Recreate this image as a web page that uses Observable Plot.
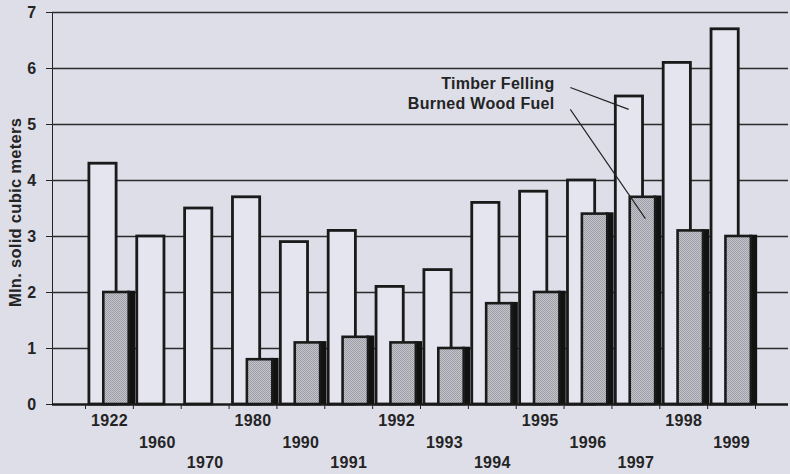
<!DOCTYPE html>
<html><head><meta charset="utf-8">
<script src="https://cdn.jsdelivr.net/npm/d3@7"></script>
<script src="https://cdn.jsdelivr.net/npm/@observablehq/plot@0.6"></script>
<style>
html,body{margin:0;padding:0;background:#dddee8;}
#chart svg{display:block;}
</style></head><body><div id="chart"></div>
<script>
// ---- data ----
const years = ["1922","1960","1970","1980","1990","1991","1992","1993","1994","1995","1996","1997","1998","1999"];
const timberFelling = [4.3, 3.0, 3.5, 3.7, 2.9, 3.1, 2.1, 2.4, 3.6, 3.8, 4.0, 5.5, 6.1, 6.7];
const burnedWoodFuel = [2.0, null, null, 0.8, 1.1, 1.2, 1.1, 1.0, 1.8, 2.0, 3.4, 3.7, 3.1, 3.0];
const yTicks = [0, 1, 2, 3, 4, 5, 6, 7];
const yTitle = "Mln. solid cubic meters";
const yTitleX = -1.46, yTitleY = 3.43;
const annotationLabels = ["Timber Felling", "Burned Wood Fuel"];
const annotationX = [9.8, 9.8];
const annotationY = [5.73, 5.36];
const leaderX1 = [10.13, 10.13];
const leaderY1 = [5.66, 5.27];
const leaderX2 = [11.35, 11.70];
const leaderY2 = [5.27, 3.32];

// ---- tables built from the arrays ----
const rows = years.map((year, i) => ({year, i, timber: timberFelling[i], fuel: burnedWoodFuel[i]}));
const fuelRows = rows.filter(d => d.fuel != null);
const annotations = annotationLabels.map((t, k) => ({t, x: annotationX[k], y: annotationY[k]}));
const leaders = leaderX1.map((x1, k) => ({x1, y1: leaderY1[k], x2: leaderX2[k], y2: leaderY2[k]}));

// layout constants
const X0 = 85, X1 = 755;
const bw = (X1 - X0) / years.length;
const rowDy = [16, 38, 58.5];
const ink = "#1a1a1a";
const txt = "#242424";

const labelMarks = rowDy.map((dy, r) =>
  Plot.text(rows.filter(d => d.i % 3 === r), {
    x: d => d.i + 0.5, y: 0, text: "year", dy, fill: txt, fontSize: 16, fontWeight: "bold"
  })
);

const chart = Plot.plot({
  width: 790,
  height: 474,
  marginLeft: 52,
  marginRight: 2,
  marginTop: 12,
  marginBottom: 70,
  style: {
    background: "transparent",
    color: txt,
    fontFamily: "'Liberation Sans', Arial, sans-serif",
    fontSize: "16px",
    fontWeight: "bold",
    letterSpacing: "0.3px",
    overflow: "visible"
  },
  x: {domain: [0, years.length], range: [X0, X1], ticks: years.length, tickSize: 5, tickFormat: () => "", label: null},
  y: {domain: [0, 7], ticks: 7, tickSize: 6, tickPadding: 10, label: null, line: true},
  marks: [
    Plot.ruleY(yTicks.filter(d => d > 0), {y: d => d, stroke: "#2b2b2b", strokeWidth: 1.3}),
    Plot.rect(rows, {
      x1: "i", x2: d => d.i + 1, y1: 0, y2: "timber",
      fill: "#e4e5ee", stroke: ink, strokeWidth: 2.8,
      insetLeft: 3.9, insetRight: bw - 31.1
    }),
    Plot.rect(fuelRows, {
      x1: "i", x2: d => d.i + 1, y1: 0, y2: "fuel",
      fill: "#121212", insetLeft: 42, insetRight: bw - 50, insetTop: -1.3
    }),
    Plot.rect(fuelRows, {
      x1: "i", x2: d => d.i + 1, y1: 0, y2: "fuel",
      fill: "url(#stipple)", stroke: ink, strokeWidth: 2.6,
      insetLeft: 18.3, insetRight: bw - 43.7
    }),
    Plot.ruleY([0], {stroke: ink, strokeWidth: 2.6}),
    ...labelMarks,
    Plot.text([yTitle], {
      x: () => yTitleX, y: () => yTitleY, text: d => d, rotate: -90,
      fill: txt, fontSize: 16.5, fontWeight: "bold"
    }),
    Plot.text(annotations, {
      x: "x", y: "y", text: "t", textAnchor: "end", fill: txt, fontSize: 16, fontWeight: "bold"
    }),
    Plot.link(leaders, {x1: "x1", y1: "y1", x2: "x2", y2: "y2", stroke: "#222", strokeWidth: 1.1})
  ]
});

// stipple pattern for the grey bars
const ns = "http://www.w3.org/2000/svg";
const defs = document.createElementNS(ns, "defs");
defs.innerHTML = `<pattern id="stipple" width="2" height="2" patternUnits="userSpaceOnUse">
  <rect width="2" height="2" fill="#c4c4cc"/>
  <rect width="1" height="1" fill="#9e9ea6"/>
  <rect x="1" y="1" width="1" height="1" fill="#9e9ea6"/>
</pattern>`;
chart.insertBefore(defs, chart.firstChild);
document.getElementById("chart").appendChild(chart);
</script>
</body></html>
